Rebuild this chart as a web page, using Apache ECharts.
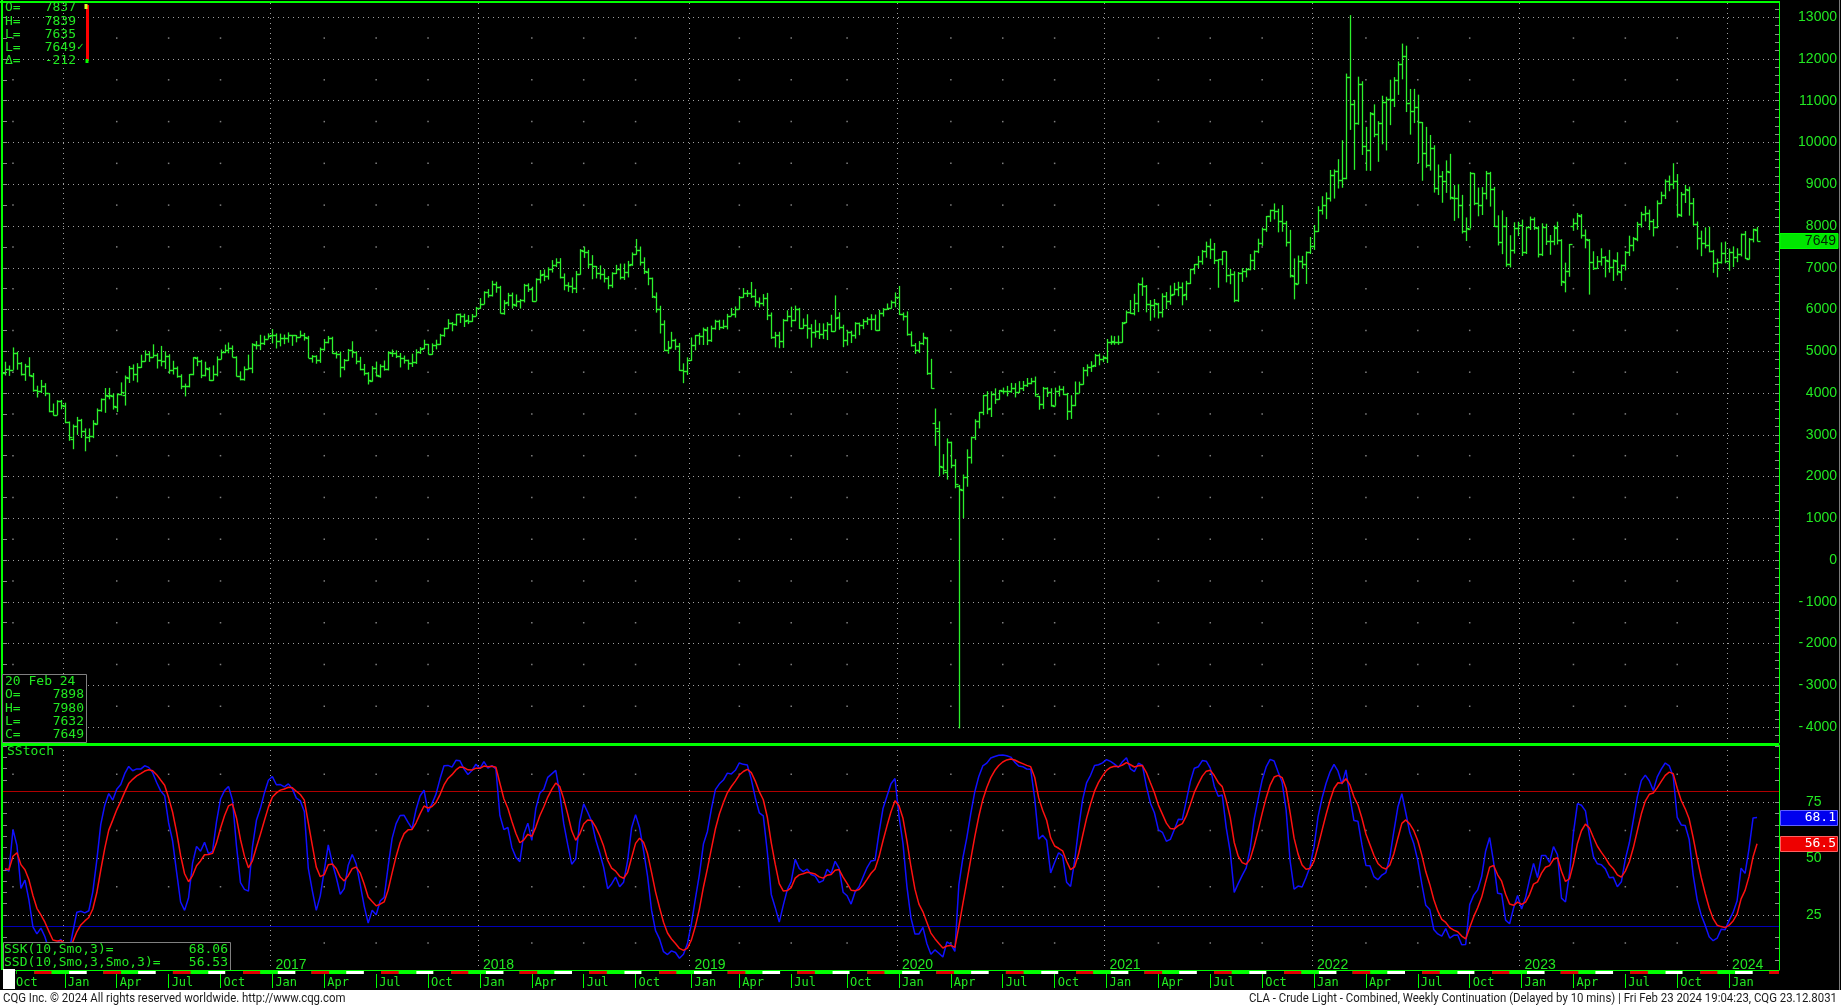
<!DOCTYPE html>
<html>
<head>
<meta charset="utf-8">
<script src="https://cdn.jsdelivr.net/npm/echarts@6/dist/echarts.min.js"></script>
<style>
html,body{margin:0;padding:0;background:#000;overflow:hidden}
#chart{width:1841px;height:1008px}
</style>
</head>
<body>
<div id="chart"></div>
<script>
// ---------------- DATA (weekly bars, price in cents) ----------------
const firstWeek = '2015-09-21';
const futureWeeks = 5;

const opens = [
4490,4570,4560,4950,4720,4455,4650,4420,4070,4040,4170,3995,3560,3480,3805,
3700,3300,2900,3200,3360,3080,2950,2970,3270,3590,3850,3940,3940,3670,3970,3950,4370,4590,4460,4620,4770,4930,4860,4900,4800,4760,4890,4540,4600,4410,4160,4180,4450,4850,4760,4440,4580,4310,4450,4820,4980,5030,5080,4870,4400,4340,4570,4600,5160,5150,5190,5300,
5380,5400,5240,5320,5320,5380,5380,5340,5400,5330,4850,4880,4800,5060,5220,5320,4960,4930,4620,4780,5030,4980,4770,4580,4470,4300,4600,4420,4650,4570,4970,4960,4880,4850,4780,4730,4750,4990,5070,5170,4930,5140,5180,5390,5560,5670,5660,5890,5840,5740,5730,5850,
6040,6140,6430,6340,6610,6540,5920,6170,6350,6120,6200,6230,6590,6490,6210,6740,6840,6810,6970,7070,7130,6780,6580,6570,6510,6860,7410,7380,7100,7040,6870,6850,6760,6590,6870,6980,6780,6900,7080,7330,7430,7130,6910,6750,6310,6020,5650,5040,5090,5260,5120,4560,4530,
4800,5160,5380,5370,5520,5270,5560,5720,5580,5610,5850,5900,6010,6310,6390,6400,6330,6190,6160,6280,5860,5350,5400,5250,5740,5850,5750,6020,5560,5620,5560,5450,5490,5410,5510,5650,5490,5810,5590,5280,5470,5380,5670,5620,5720,5770,5780,5510,5920,6010,6040,6170,
6310,5900,5850,5420,5150,5030,5200,5330,4470,3287,3100,2240,2100,2830,2280,1780,1690,1980,2470,2940,3320,3550,3950,3630,3970,3850,4060,4050,4060,4130,4030,4120,4200,4230,4300,3930,3730,4110,4020,3700,4060,4090,3980,3580,3710,4010,4220,4550,4630,4660,4910,4820,
4850,5220,5230,5230,5220,5690,5950,5920,6150,6600,6560,6140,6100,6140,5930,6320,6210,6360,6490,6540,6360,6630,6960,7090,7160,7400,7510,7450,7180,7200,7390,6820,6840,6230,6870,6930,6970,7190,7390,7590,7930,8230,8380,8350,8120,8080,7610,6810,6620,7160,7080,7380,
7520,7890,8380,8510,8680,9230,9310,9100,9150,11570,10930,10470,11390,9920,9820,10690,10200,10470,10970,11050,11030,11500,11880,12060,10950,10760,10840,10480,9760,9470,9860,8900,9200,9070,9300,8680,8680,8510,7870,7940,9260,8560,8500,8790,9260,8890,8000,7620,7990,7100,7430,7950,
8020,7370,7980,8160,7960,7330,7970,7630,7630,7960,7660,6670,6920,7990,8070,8250,7790,7670,7130,7000,7170,7260,7170,7010,7170,6910,7060,7380,7540,7700,8050,8280,8310,8120,7980,8550,8750,9070,9000,9070,8270,8760,8870,8550,8050,7710,7590,7550,7400,7120,7140,7350,
7160,7380,7260,7340,7800,7220,7680,7898];

const highs = [
4750,4660,5092,4990,4740,4700,4857,4480,4176,4315,4236,3999,3749,3829,3836,
3769,3320,3247,3429,3382,3153,3153,3350,3632,3870,4120,4125,3994,3992,4255,4420,4649,4686,4716,4919,5021,5000,5167,4953,5129,5000,4929,4773,4637,4450,4227,4454,4857,4870,4795,4751,4620,4662,4878,5044,5160,5211,5140,4880,4520,4638,4920,5193,5245,5395,5374,5429,
5531,5429,5423,5401,5453,5393,5388,5494,5440,5369,4909,4904,5090,5294,5367,5349,5000,4993,4815,5056,5240,5000,4868,4696,4500,4645,4754,4689,4780,4992,5043,5022,4960,4898,4800,4942,5047,5101,5276,5177,5190,5277,5418,5564,5769,5700,5898,5905,5899,5868,5893,6063,
6274,6437,6489,6689,6667,6568,6225,6400,6406,6361,6253,6615,6627,6546,6747,6947,6958,7011,7184,7227,7231,6864,6653,6769,6924,7446,7505,7427,7303,7043,7057,6973,6801,6893,7071,7100,7100,7164,7368,7690,7509,7250,6993,6765,6410,6090,5742,5249,5466,5300,5200,4711,4855,
5331,5392,5441,5568,5584,5614,5755,5755,5755,5897,6039,6073,6322,6514,6466,6660,6493,6290,6370,6399,5929,5466,5468,5776,5982,6068,6094,6040,5785,5887,5650,5755,5674,5668,5698,5875,6338,5934,5637,5499,5493,5696,5688,5774,5816,5887,5880,5992,6034,6145,6218,6409,
6565,5930,5955,5476,5197,5245,5444,5338,4820,3630,3323,2537,2913,2836,2418,1800,2048,2652,2954,3372,3549,3957,4044,4043,4113,4070,4131,4172,4243,4237,4284,4290,4361,4363,4395,3932,4147,4138,4115,4130,4178,4164,4005,3946,4277,4273,4622,4687,4762,4939,4946,4896,
5295,5377,5362,5376,5702,5976,6227,6377,6640,6767,6587,6227,6252,6159,6388,6420,6576,6640,6665,6648,6688,6976,7091,7284,7427,7626,7698,7593,7209,7400,7395,6975,6915,6899,6991,6996,7327,7414,7696,7962,8240,8390,8541,8413,8501,8124,7908,7224,7293,7285,7390,7739,
8023,8474,8713,8805,9342,9354,9600,10054,11650,13050,11020,11576,11467,10375,10729,10913,10511,11120,11096,11503,11565,11941,12368,12318,11282,11284,11145,10490,10374,10180,9933,9473,9315,9571,9729,8979,9007,8746,8205,9296,9264,8922,8931,9319,9298,8937,8255,8375,8214,7779,8090,8102,
8154,7986,8227,8208,7986,8065,8054,7784,8013,8104,7685,7123,7569,8181,8313,8286,7918,7688,7395,7281,7467,7279,7429,7200,7372,7077,7399,7768,7735,8100,8340,8479,8392,8168,8613,8822,9116,9208,9503,9244,8815,8985,8944,8671,8108,7889,7967,7984,7428,7220,7608,7627,
7461,7512,7467,7818,7879,7711,7936,7980];

const lows = [
4420,4410,4555,4558,4420,4292,4400,4032,3893,4000,3925,3540,3464,3470,3611,
3277,2856,2655,2999,2925,2605,2825,2920,3245,3553,3526,3849,3604,3544,3940,3700,4241,4295,4256,4603,4752,4746,4851,4587,4641,4577,4460,4443,4367,4092,3919,4135,4426,4643,4356,4400,4291,4296,4400,4809,4955,4952,4858,4397,4303,4296,4565,4475,5043,5028,5150,5299,
5189,5066,5118,5170,5207,5130,5215,5330,5256,4838,4728,4703,4723,5015,5190,4942,4827,4376,4546,4770,4846,4690,4545,4420,4205,4276,4396,4367,4537,4541,4866,4837,4613,4705,4557,4625,4697,4936,5050,4928,4918,5045,5150,5347,5540,5479,5610,5676,5581,5651,5706,5845,
6019,6127,6284,6311,6402,5907,5876,6081,6021,6063,6023,6170,6419,6184,6200,6625,6679,6716,6885,7016,6744,6461,6424,6392,6396,6835,7236,6994,6725,6745,6719,6647,6485,6520,6851,6719,6708,6768,7046,7313,7052,6848,6581,6276,5926,5426,5003,4941,5080,5034,4531,4236,4435,
4770,5024,5155,5150,5148,5225,5518,5507,5533,5523,5843,5806,6000,6282,6300,6275,6068,6050,6079,5746,5297,5096,5072,5082,5717,5575,5720,5536,5540,5302,5088,5327,5295,5292,5269,5460,5480,5518,5098,5137,5197,5303,5385,5531,5634,5507,5500,5485,5831,5995,6025,6053,
5871,5736,5374,5113,4936,4960,5147,4436,4105,2734,2006,2050,1927,2200,1720,-4032,1007,1757,2311,2874,3153,3471,3493,3427,3740,3840,3972,3921,4008,3895,3999,4047,4146,4211,3916,3600,3619,3905,3676,3696,3916,3950,3357,3381,3685,3998,4200,4400,4506,4623,4664,4739,
4718,5155,5155,5153,5205,5675,5895,5860,5938,6327,5932,5730,5807,5786,5810,6010,6114,6344,6319,6101,6223,6610,6845,6994,7075,7241,7208,7088,6521,7062,6650,6606,6174,6183,6662,6769,6939,6947,7350,7524,7861,8100,8158,7848,7862,7508,6766,6243,6610,6978,6612,7331,
7427,7856,8273,8164,8586,8657,8897,8916,9118,10301,9344,10425,9702,9322,9320,10126,9537,9956,9809,10415,10848,11140,11512,10728,10188,10464,9505,9083,9395,9327,8800,8741,8557,8793,8633,8123,8186,7820,7640,7940,8498,8232,8264,8637,8465,7976,7534,7325,7025,7008,7340,7759,
7281,7330,7905,7909,7246,7280,7546,7311,7540,7558,6565,6412,6784,7884,7910,7698,7465,6357,6946,6979,7050,6770,6883,6685,6817,6685,6935,7280,7394,7635,7963,8110,7901,7751,7944,8528,8646,8832,8882,8202,8218,8551,8248,8008,7435,7277,7464,7370,6878,6771,7100,7108,
6928,7016,7133,7271,7213,7202,7608,7632];

const closes = [
4570,4554,4963,4726,4460,4659,4429,4074,4039,4171,3997,3562,3473,3810,3704,
3316,2942,3219,3362,3089,2944,2964,3278,3592,3850,3944,3946,3679,3972,4036,4373,4592,4466,4621,4775,4933,4862,4907,4798,4764,4899,4541,4595,4419,4160,4180,4449,4852,4764,4444,4588,4303,4448,4824,4981,5035,5085,4870,4407,4341,4569,4606,5168,5150,5190,5302,5372,
5399,5237,5322,5317,5383,5386,5340,5399,5333,4849,4878,4797,5060,5224,5318,4962,4933,4622,4784,5033,4980,4766,4583,4474,4301,4604,4423,4654,4577,4971,4958,4882,4851,4787,4729,4748,4989,5066,5167,4929,5145,5184,5390,5564,5674,5655,5895,5836,5736,5730,5847,6042,
6144,6430,6337,6614,6545,5920,6168,6355,6125,6204,6234,6588,6494,6206,6739,6838,6810,6972,7070,7128,6788,6581,6574,6506,6858,7415,7380,7101,7046,6869,6849,6763,6591,6872,6980,6775,6899,7078,7325,7434,7134,6912,6759,6314,6019,5646,5042,5093,5261,5120,4559,4533,4796,
5159,5380,5369,5526,5272,5559,5726,5580,5607,5852,5904,6014,6308,6389,6400,6330,6194,6166,6276,5863,5350,5399,5251,5743,5847,5751,6021,5563,5620,5566,5450,5487,5417,5510,5652,5485,5809,5591,5281,5470,5378,5666,5620,5724,5772,5777,5517,5920,6007,6044,6172,6305,
5904,5854,5419,5156,5032,5205,5338,4476,4128,3173,2243,2151,2834,2276,1827,1694,1978,2474,2943,3325,3549,3955,3626,3975,3849,4065,4055,4059,4129,4027,4122,4201,4234,4297,3977,3733,4111,4025,3705,4060,4088,3985,3579,3714,4013,4215,4553,4626,4657,4910,4823,4852,
5224,5236,5227,5220,5685,5947,5924,6150,6609,6561,6142,6097,6145,5932,6313,6214,6358,6490,6537,6358,6632,6962,7091,7164,7405,7516,7456,7181,7207,7395,6828,6844,6232,6874,6929,6972,7197,7398,7588,7935,8228,8376,8357,8127,8079,7610,6815,6626,7167,7086,7379,7521,
7890,8382,8514,8682,9231,9310,9107,9159,11568,10933,10470,11390,9927,9826,10695,10207,10469,10977,11049,11028,11507,11887,12067,10956,10762,10843,10479,9759,9470,9862,8901,9209,9077,9306,8687,8679,8511,7874,7949,9264,8561,8505,8790,9261,8896,8008,7628,7998,7102,7429,7956,8026,
7377,7986,8164,7968,7339,7972,7634,7632,7968,7668,6674,6926,7567,8070,8252,7787,7678,7134,7004,7169,7267,7174,7017,7178,6916,7064,7386,7542,7707,8058,8282,8319,8125,7983,8555,8751,9077,9003,9079,8279,8769,8875,8554,8051,7717,7589,7554,7407,7123,7143,7356,7165,
7381,7268,7341,7801,7228,7684,7919,7649];

// axis tick labels
const priceTicks = [-4000,-3000,-2000,-1000,0,1000,2000,3000,4000,5000,6000,7000,8000,9000,10000,11000,12000,13000];
const stochTicks = [25,50,75];
const stochLevels = [80,20];
const monthNames = ['Jan','Feb','Mar','Apr','May','Jun','Jul','Aug','Sep','Oct','Nov','Dec'];

// info-box texts
const quoteRows = [['O=','7837'],['H=','7839'],['L=','7635'],['L=','7649'],['\u0394=','-212']];
const barRows = [['20 Feb 24',''],['O=','7898'],['H=','7980'],['L=','7632'],['C=','7649']];
const sskText = ['SSK(10,Smo,3)=','68.06'];
const ssdText = ['SSD(10,Smo,3,Smo,3)=','56.53'];
const sskLast = 68.1, ssdLast = 56.5, lastPrice = 7649;

// ---------------- build ----------------
const DAY = 86400000;
const [fy, fm, fd] = firstWeek.split('-').map(Number);
const T0 = Date.UTC(fy, fm - 1, fd);
const NB = closes.length;
const NCAT = NB + futureWeeks;
const weeks = [];
for (let i = 0; i < NCAT; i++) weeks.push(new Date(T0 + i * 7 * DAY).toISOString().slice(0, 10));
const monOf = i => +weeks[i].slice(5, 7) - 1;
const isMonthStart = i => i > 0 && monOf(i) !== monOf(i - 1);
const isQuarter = i => isMonthStart(i) && monOf(i) % 3 === 0;
const isJan = i => isMonthStart(i) && monOf(i) === 0;

const ohlc = opens.map((o, i) => [i, o, highs[i], lows[i], closes[i]]);

// Smoothed stochastic (SSK 10, Smo 3; SSD = Smo 3 of SSK)
function smo(arr, n) {
  const out = []; let s = null;
  for (const x of arr) { s = (s === null) ? x : (s * (n - 1) + x) / n; out.push(s); }
  return out;
}
const num = [], den = [];
for (let i = 0; i < NB; i++) {
  let hh = -Infinity, ll = Infinity;
  for (let j = Math.max(0, i - 9); j <= i; j++) { hh = Math.max(hh, highs[j]); ll = Math.min(ll, lows[j]); }
  num.push(closes[i] - ll); den.push(hh - ll);
}
const sn = smo(num, 3), sd = smo(den, 3);
const ssk = sn.map((v, i) => sd[i] > 0 ? 100 * v / sd[i] : 50);
const ssd = smo(ssk, 3);

const dotsMain = [], dotsStoch = [];
for (let i = 0; i < NCAT; i++) {
  if (isQuarter(i) && !isJan(i)) {
    for (let v = -3500; v <= 12500; v += 1000) dotsMain.push([i, v]);
    for (const v of [12.5, 37.5, 62.5, 87.5]) dotsStoch.push([i, v]);
  }
}
const minorPrice = [], leftPrice = [], stochMinor = [];
for (let v = -4200; v <= 13200; v += 200) minorPrice.push(v);
for (let v = -4000; v <= 13000; v += 500) leftPrice.push(v);
for (let v = 5; v <= 100; v += 5) stochMinor.push(v);

// ---------------- style ----------------
const GREEN = '#22e822';
const BAR = '#2cf02c';
const LINE = '#00ff00';
const GRID = '#a0a0a0';
const MONO = '"DejaVu Sans Mono", monospace';
const SANS = '"Liberation Sans", Arial, sans-serif';
const L = 3, W = 1776;
const MAIN = {top: 3, height: 740};
const STO = {top: 745, height: 225};

function renderOHLC(params, api) {
  const i = api.value(0);
  const pO = api.coord([i, api.value(1)]);
  const pH = api.coord([i, api.value(2)]);
  const pL = api.coord([i, api.value(3)]);
  const pC = api.coord([i, api.value(4)]);
  const x = Math.round(pH[0]) + 0.5;
  const t = 3;
  const st = {stroke: BAR, lineWidth: 1.3};
  return {type: 'group', children: [
    {type: 'line', shape: {x1: x, y1: pH[1], x2: x, y2: pL[1]}, style: st},
    {type: 'line', shape: {x1: x - t, y1: Math.round(pO[1]) + 0.5, x2: x, y2: Math.round(pO[1]) + 0.5}, style: st},
    {type: 'line', shape: {x1: x, y1: Math.round(pC[1]) + 0.5, x2: x + t, y2: Math.round(pC[1]) + 0.5}, style: st}
  ]};
}

const dotted = {color: GRID, type: [1, 4], width: 1};
const hiddenAxisBase = {axisLine: {show: false}, axisTick: {show: false}, axisLabel: {show: false}, splitLine: {show: false}};

const option = {
  backgroundColor: '#000',
  animation: false,
  textStyle: {fontFamily: SANS},
  grid: [
    {left: L, top: MAIN.top, width: W, height: MAIN.height, outerBoundsMode: 'none', containLabel: false},
    {left: L, top: STO.top, width: W, height: STO.height, outerBoundsMode: 'none', containLabel: false}
  ],
  xAxis: [
    Object.assign({}, hiddenAxisBase, {type: 'category', gridIndex: 0, data: weeks, boundaryGap: true,
      splitLine: {show: true, interval: (i) => isJan(i), lineStyle: dotted}}),
    {type: 'category', gridIndex: 1, data: weeks, boundaryGap: true, position: 'bottom',
      axisLine: {show: false},
      axisTick: {show: true, interval: (i) => isQuarter(i), alignWithLabel: true, length: 18, lineStyle: {color: LINE, width: 1}},
      axisLabel: {show: true, interval: (i) => isQuarter(i), formatter: (v) => monthNames[+v.slice(5, 7) - 1],
        align: 'left', padding: [0, 0, 0, 3], margin: 7, color: GREEN, fontFamily: MONO, fontSize: 12},
      splitLine: {show: true, interval: (i) => isJan(i), lineStyle: dotted}},
    {type: 'category', gridIndex: 1, data: weeks, boundaryGap: true, position: 'bottom',
      axisLine: {show: false}, axisTick: {show: false},
      axisLabel: {show: true, inside: true, interval: (i) => isJan(i), formatter: (v) => v.slice(0, 4),
        align: 'left', padding: [0, 0, 0, 3], margin: -2, color: GREEN, fontFamily: SANS, fontSize: 14},
      splitLine: {show: false}}
  ],
  yAxis: [
    {type: 'value', gridIndex: 0, position: 'right', min: -4380, max: 13340, scale: true,
      axisLine: {show: true, lineStyle: {color: LINE, width: 1}},
      axisTick: {show: false, customValues: priceTicks},
      axisLabel: {show: true, customValues: priceTicks, color: GREEN, fontFamily: SANS, fontSize: 14,
        align: 'right', margin: 58, formatter: (v) => v < 0 ? '-\u2009' + Math.abs(v) : String(v)},
      splitLine: {show: true, lineStyle: dotted}},
    Object.assign({}, hiddenAxisBase, {type: 'value', gridIndex: 0, position: 'right', min: -4380, max: 13340,
      axisTick: {show: true, inside: true, length: 4, customValues: minorPrice, lineStyle: {color: '#8a8a8a'}}}),
    Object.assign({}, hiddenAxisBase, {type: 'value', gridIndex: 0, position: 'left', min: -4380, max: 13340,
      axisTick: {show: true, inside: true, length: 4, customValues: leftPrice, lineStyle: {color: '#8a8a8a'}}}),
    {type: 'value', gridIndex: 1, position: 'right', min: 0.5, max: 100.5,
      axisLine: {show: true, lineStyle: {color: LINE, width: 1}},
      axisTick: {show: false, customValues: stochTicks},
      axisLabel: {show: true, customValues: stochTicks, color: GREEN, fontFamily: SANS, fontSize: 14, margin: 27},
      splitLine: {show: true, lineStyle: dotted}},
    Object.assign({}, hiddenAxisBase, {type: 'value', gridIndex: 1, position: 'right', min: 0.5, max: 100.5,
      axisTick: {show: true, inside: true, length: 4, customValues: stochMinor, lineStyle: {color: '#8a8a8a'}}}),
    Object.assign({}, hiddenAxisBase, {type: 'value', gridIndex: 1, position: 'left', min: 0.5, max: 100.5,
      axisTick: {show: true, inside: true, length: 4, customValues: stochMinor, lineStyle: {color: '#8a8a8a'}}})
  ],
  series: [
    {type: 'scatter', xAxisIndex: 0, yAxisIndex: 0, data: dotsMain, symbol: 'rect', symbolSize: 1.5,
      itemStyle: {color: GRID}, silent: true, z: 1},
    {type: 'scatter', xAxisIndex: 1, yAxisIndex: 3, data: dotsStoch, symbol: 'rect', symbolSize: 1.5,
      itemStyle: {color: GRID}, silent: true, z: 1},
    {type: 'custom', name: 'CLA', xAxisIndex: 0, yAxisIndex: 0, data: ohlc, renderItem: renderOHLC,
      encode: {x: 0, y: [1, 2, 3, 4]}, clip: true, silent: true, z: 3},
    {type: 'line', name: 'SSK', xAxisIndex: 1, yAxisIndex: 3, data: ssk, showSymbol: false, symbol: 'none',
      lineStyle: {color: '#1010ff', width: 1.5}, silent: true, z: 4},
    {type: 'line', name: 'SSD', xAxisIndex: 1, yAxisIndex: 3, data: ssd, showSymbol: false, symbol: 'none',
      lineStyle: {color: '#ff1010', width: 1.5}, silent: true, z: 5}
  ]
};

const chart = echarts.init(document.getElementById('chart'), null, {renderer: 'canvas'});
chart.setOption(option);

// ---------------- overlay texts / boxes ----------------
function txt(x, y, text, o) {
  o = o || {};
  return {type: 'text', z: 110, silent: true, x: x, y: y,
    style: {text: text, fill: o.fill || GREEN, font: o.font || ('13px ' + MONO),
      align: o.align || 'left', textAlign: o.align || 'left', verticalAlign: 'middle', textVerticalAlign: 'middle'}};
}
function rect(x, y, w, h, fill, stroke, z) {
  return {type: 'rect', z: z || 100, silent: true, shape: {x: x, y: y, width: w, height: h},
    style: {fill: fill || 'none', stroke: stroke || null, lineWidth: 1}};
}
const g = [];
// overbought / oversold levels of the stochastic (through the axis scale)
const lvlColors = ['#b00000', '#0000b8'];
stochLevels.forEach((v, k) => {
  const y = Math.round(chart.convertToPixel({xAxisIndex: 1, yAxisIndex: 3}, [0, v])[1]) + 0.5;
  g.push({type: 'line', z: 1, silent: true, shape: {x1: L, y1: y, x2: L + W, y2: y},
    style: {stroke: lvlColors[k], lineWidth: 1}});
});
// frame lines
g.push(rect(0, 1, 1780, 2, LINE, null, 90));
g.push(rect(1, 0, 2, 970, LINE, null, 90));
g.push(rect(3, 743, 1776, 3, LINE, null, 90));
g.push({type: 'line', z: 90, silent: true, shape: {x1: 1839.5, y1: 0, x2: 1839.5, y2: 990}, style: {stroke: '#7a7a7a', lineWidth: 1}});

// quote box (top-left)
quoteRows.forEach((r, k) => {
  const y = 8 + k * 13.2;
  g.push(txt(5, y, r[0]));
  g.push(txt(76, y, r[1], {align: 'right'}));
});
g.push(txt(77, 8 + 3 * 13.2, '\u2713', {font: '11px ' + MONO}));
g.push(rect(86, 5, 3, 56, '#ff0000', null, 105));
g.push(rect(84.5, 4, 3, 5, '#d8ff20', null, 106));
g.push(rect(85.5, 59, 3, 4, '#00ff00', null, 106));

// last-bar box
g.push(rect(2.5, 674.5, 84, 68, '#000', '#808080', 100));
barRows.forEach((r, k) => {
  const y = 682 + k * 13.1;
  g.push(txt(5, y, r[0]));
  if (r[1]) g.push(txt(84, y, r[1], {align: 'right'}));
});
g.push(txt(7, 752, 'SStoch'));

// stoch info box
g.push(rect(3.5, 942.5, 227, 28, '#000', '#808080', 100));
g.push(txt(4, 949.5, sskText[0]));
g.push(txt(228, 949.5, sskText[1], {align: 'right'}));
g.push(txt(4, 962.5, ssdText[0]));
g.push(txt(228, 962.5, ssdText[1], {align: 'right'}));

// time strip
const band = W / NCAT;
const xOfDate = (t) => L + ((t - T0) / (7 * DAY) + 0.5) * band;
g.push(rect(16, 970, 1763, 4, LINE, null, 100));
const segCol = ['#000000', '#e00000', null, '#ffffff'];
let mk = 0;
for (let y = 2015, m = 9; ; ) {
  const a = Date.UTC(y, m, 1);
  const nm = m === 11 ? 0 : m + 1, ny = m === 11 ? y + 1 : y;
  const b = Date.UTC(ny, nm, 1);
  const xa = Math.max(16, xOfDate(a) + 6), xb = Math.min(1779, xOfDate(b) + 6);
  if (xa >= 1779) break;
  const c = segCol[mk % 4];
  if (c && xb > xa) g.push(rect(xa, 971, xb - xa, 3, c, null, 101));
  mk++; y = ny; m = nm;
}
g.push(rect(3, 969, 12, 20, '#ffffff', null, 102));

// right value boxes
const yPrice = chart.convertToPixel({gridIndex: 0}, [0, lastPrice])[1];
g.push(rect(1780, Math.round(yPrice) - 7.5, 58, 15, '#00e600', '#00ff00', 100));
g.push(txt(1836, yPrice, String(lastPrice), {align: 'right', fill: '#002200', font: '14px ' + SANS}));
const yK = chart.convertToPixel({xAxisIndex: 1, yAxisIndex: 3}, [0, sskLast])[1];
const yD = chart.convertToPixel({xAxisIndex: 1, yAxisIndex: 3}, [0, ssdLast])[1];
g.push(rect(1780.5, Math.round(yK) - 7.5, 57, 15, '#0000ee', '#6060ff', 100));
g.push(txt(1836, yK, sskLast.toFixed(1), {align: 'right', fill: '#ffffff'}));
g.push(rect(1780.5, Math.round(yD) - 7.5, 57, 15, '#ee0000', '#ff6060', 100));
g.push(txt(1836, yD, ssdLast.toFixed(1), {align: 'right', fill: '#ffffff'}));

// footer
g.push(rect(0, 990, 1841, 18, '#ffffff', null, 100));
g.push({type: 'text', z: 110, silent: true, x: 3, y: 999, scaleX: 0.95,
  style: {text: 'CQG Inc. \u00a9 2024 All rights reserved worldwide. http://www.cqg.com', fill: '#1a1a1a',
    font: '12px Roboto, "Liberation Sans", sans-serif', align: 'left', textAlign: 'left', verticalAlign: 'middle', textVerticalAlign: 'middle'}});
g.push({type: 'text', z: 110, silent: true, x: 1837, y: 999, scaleX: 0.95,
  style: {text: 'CLA - Crude Light - Combined, Weekly Continuation (Delayed by 10 mins) | Fri Feb 23 2024 19:04:23, CQG 23.12.8031', fill: '#1a1a1a',
    font: '12px Roboto, "Liberation Sans", sans-serif', align: 'right', textAlign: 'right', verticalAlign: 'middle', textVerticalAlign: 'middle'}});

chart.setOption({graphic: {elements: g}});
</script>
</body>
</html>
